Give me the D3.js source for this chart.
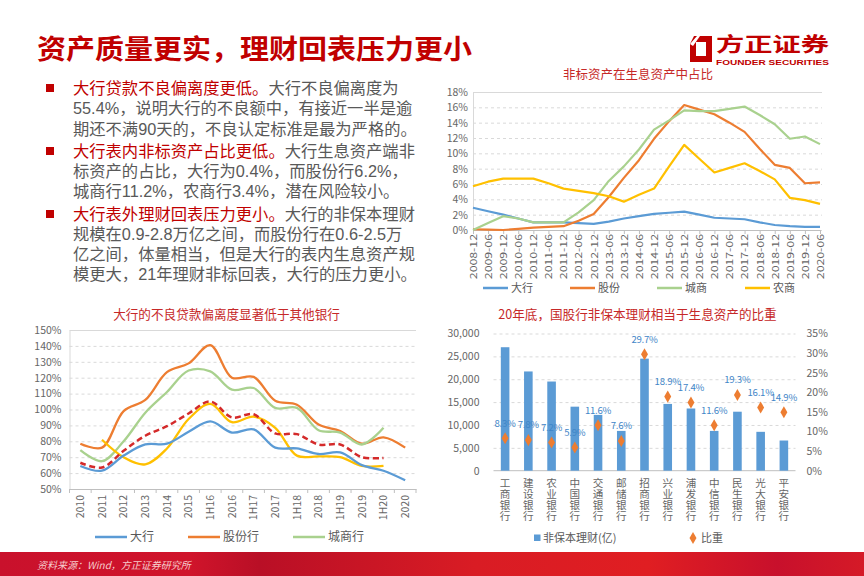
<!DOCTYPE html>
<html><head><meta charset="utf-8">
<script src="https://cdn.jsdelivr.net/npm/d3@7"></script>
<style>
body{margin:0;background:#fff;}
svg{display:block;font-family:"Noto Sans CJK SC","Noto Sans",sans-serif;}
</style></head><body>
<svg id="c" width="864" height="576"></svg>
<script>
// ---------- data ----------
const periods = ["2008-12","2009-06","2009-12","2010-06","2010-12","2011-06","2011-12","2012-06","2012-12","2013-06","2013-12","2014-06","2014-12","2015-06","2015-12","2016-06","2016-12","2017-06","2017-12","2018-06","2018-12","2019-06","2019-12","2020-06"];
const nsBig    = [2.9,2.45,2.0,1.5,1.0,1.0,1.0,0.9,0.8,1.1,1.5,1.8,2.1,2.25,2.4,2.0,1.6,1.5,1.4,1.0,0.65,0.5,0.4,0.4];
const nsJoint  = [0.1,0.05,0.0,0.15,0.3,0.4,0.5,1.2,2.1,4.3,6.8,9.1,11.9,14.2,16.3,15.7,15.1,14.0,12.8,10.6,8.5,8.1,6.1,6.2];
const nsCity   = [0.0,0.9,1.8,1.5,1.0,1.0,1.0,2.3,3.9,6.4,8.3,10.5,13.1,14.3,15.6,15.5,15.5,15.8,16.1,15.0,13.8,11.9,12.2,11.2];
const nsRural  = [5.7,6.3,6.7,6.7,6.7,6.1,5.4,5.1,4.8,4.4,3.7,4.6,5.4,8.3,11.1,9.3,7.5,8.1,8.7,7.7,6.6,4.2,3.9,3.4];
const nsTicks  = [0,2,4,6,8,10,12,14,16,18];
const nsNames  = ["大行","股份","城商","农商"];

const devCats   = ["2010","2011","2012","2013","2014","2015","1H16","2016","1H17","2017","1H18","2018","1H19","2019","1H20","2020"];
const devBig    = [64.5,61.5,71,78,78.5,86,92.5,85.5,87.5,76,75.5,72,73,65,61.5,55.5];
const devJoint  = [78.5,76,99,106,123.5,129,140.5,120,120.5,105.5,103,90.5,86.5,78.5,82.5,76];
const devCity   = [74.5,67.5,80,98,111,124.5,124,112.5,113.5,101,101,87,85.5,78,88.5,null];
const devRural  = [null,81,70,65.5,75.5,94,103.5,92,95.5,88.5,71,70.5,70,64.5,64.5,null];
const devAll    = [66.5,63.5,74,83.5,89.5,97.5,105,95,97,85,84.5,78,78,70,69.5,null];
const devTicks  = [50,60,70,80,90,100,110,120,130,140,150];
const devNames  = ["大行","股份行","城商行"];

const banks    = ["工商银行","建设银行","农业银行","中国银行","交通银行","邮储银行","招商银行","兴业银行","浦发银行","中信银行","民生银行","光大银行","平安银行"];
const wmp      = [27000,21700,19500,14000,12200,8700,24500,14600,13600,8700,12900,8500,6600];
const wmpRatio = [8.3,7.8,7.2,5.9,11.6,7.6,29.7,18.9,17.4,11.6,19.3,16.1,14.9];
const wmpTicks = [0,5000,10000,15000,20000,25000,30000];
const ratioTicks = [0,5,10,15,20,25,30,35];

const bullets = [
  [["大行贷款不良偏离度更低。","r"],["大行不良偏离度为","g"]],
  [["55.4%，说明大行的不良额中，有接近一半是逾","g"]],
  [["期还不满90天的，不良认定标准是最为严格的。","g"]],
  [["大行表内非标资产占比更低。","r"],["大行生息资产端非","g"]],
  [["标资产的占比，大行为0.4%，而股份行6.2%，","g"]],
  [["城商行11.2%，农商行3.4%，潜在风险较小。","g"]],
  [["大行表外理财回表压力更小。","r"],["大行的非保本理财","g"]],
  [["规模在0.9-2.8万亿之间，而股份行在0.6-2.5万","g"]],
  [["亿之间，体量相当，但是大行的表内生息资产规","g"]],
  [["模更大，21年理财非标回表，大行的压力更小。","g"]]
];

// ---------- drawing ----------
const svg = d3.select("#c");
const RED = "#c00000", GRAY = "#595959";
const C = {blue:"#5b9bd5", orange:"#ed7d31", green:"#a9d18e", yellow:"#ffc000", red:"#d42a2a"};

// header
svg.append("text").attr("x",37).attr("y",59).attr("font-size",27).attr("font-weight","bold")
  .attr("fill",RED).attr("textLength",435).attr("lengthAdjust","spacingAndGlyphs")
  .text("资产质量更实，理财回表压力更小");
// logo
svg.append("path").attr("d","M694,36 L712,36 L712,62 L690,62 L690,44 Z M696,42 L706,42 L706,56 L696,56 Z")
  .attr("fill",RED).attr("fill-rule","evenodd");
svg.append("path").attr("d","M690,44 L697,36 L700,36 L693,46 Z").attr("fill","#fff");
svg.append("text").attr("x",716).attr("y",51.5).attr("font-size",20).attr("font-weight","bold").attr("fill",RED)
  .attr("textLength",113).attr("lengthAdjust","spacingAndGlyphs").text("方正证券");
svg.append("text").attr("x",716).attr("y",64.5).attr("font-size",7.5).attr("font-weight","bold").attr("fill",RED)
  .attr("font-family","Liberation Sans, Arial, sans-serif")
  .attr("textLength",113).attr("lengthAdjust","spacingAndGlyphs").text("FOUNDER SECURITIES");

// bullet text
const lineY = [88,108.5,129,151,171,191,214,234,254,274.5];
const bulletLines = [0,3,6];
bullets.forEach((parts,i)=>{
  const t = svg.append("text").attr("x",73).attr("y",lineY[i]).attr("dy","0.36em").attr("font-size",16.3)
    .attr("font-family",'"Liberation Sans","Noto Sans CJK SC",sans-serif');
  parts.forEach(p=>t.append("tspan").attr("fill",p[1]==="r"?RED:GRAY).text(p[0]));
  if (bulletLines.includes(i)) svg.append("rect").attr("x",46).attr("y",lineY[i]-4).attr("width",8).attr("height",8).attr("fill",RED);
});

function styleAxis(g, fs){
  g.selectAll("text").attr("fill","#666").attr("font-size",fs||10.5).attr("font-family",'"Noto Sans CJK SC",sans-serif');
}

// ---- chart 1: 非标资产在生息资产中占比 ----
{
  const x = d3.scalePoint().domain(periods).range([473,820]);
  const y = d3.scaleLinear().domain([0,18]).range([230,92]);
  svg.append("text").attr("x",638).attr("y",75).attr("dy","0.35em").attr("text-anchor","middle")
    .attr("font-size",12.5).attr("fill","#c62828").text("非标资产在生息资产中占比");
  const gy = svg.append("g").attr("transform","translate(473,0)")
    .call(d3.axisLeft(y).tickValues(nsTicks).tickSize(-349).tickPadding(5).tickFormat(d=>d+"%"));
  gy.select(".domain").attr("stroke","#d9d9d9");
  gy.selectAll(".tick line").attr("stroke","#d9d9d9").attr("stroke-dasharray","3,3");
  styleAxis(gy);
  const gx = svg.append("g").attr("transform","translate(0,230)")
    .call(d3.axisBottom(x).tickSize(4).tickSizeOuter(0));
  gx.select(".domain").attr("stroke","#bfbfbf");
  gx.selectAll(".tick line").attr("stroke","#bfbfbf");
  styleAxis(gx, 12.3);
  gx.selectAll("text").attr("transform","rotate(-90) scale(1,0.78)").attr("x",-4).attr("y",0).attr("dy","0.35em").style("text-anchor","end");
  const series = [[nsBig,C.blue],[nsJoint,C.orange],[nsCity,C.green],[nsRural,C.yellow]];
  const line = d3.line().x((d,i)=>x(periods[i])).y(d=>y(d));
  series.forEach(s=>svg.append("path").datum(s[0]).attr("d",line).attr("fill","none")
    .attr("stroke",s[1]).attr("stroke-width",2.2).attr("stroke-linejoin","round"));
  const lx = [483,570,657,745];
  nsNames.forEach((n,i)=>{
    svg.append("line").attr("x1",lx[i]).attr("x2",lx[i]+25).attr("y1",288).attr("y2",288)
      .attr("stroke",series[i][1]).attr("stroke-width",2.5);
    svg.append("text").attr("x",lx[i]+28).attr("y",288).attr("dy","0.35em").attr("font-size",11)
      .attr("fill",GRAY).text(n);
  });
}

// ---- chart 2: 不良贷款偏离度 ----
{
  const x = d3.scaleBand().domain(devCats).range([69.5,416]);
  const y = d3.scaleLinear().domain([50,150]).range([489,330]);
  const cx = c=>x(c)+x.bandwidth()/2;
  svg.append("text").attr("x",226.5).attr("y",315).attr("dy","0.35em").attr("text-anchor","middle")
    .attr("font-size",12.6).attr("fill","#c62828").text("大行的不良贷款偏离度显著低于其他银行");
  const gy = svg.append("g").attr("transform","translate(69.5,0)")
    .call(d3.axisLeft(y).tickValues(devTicks).tickSize(-346.5).tickPadding(8).tickFormat(d=>d+"%"));
  gy.select(".domain").attr("stroke","#d9d9d9");
  gy.selectAll(".tick line").attr("stroke","#d9d9d9").attr("stroke-dasharray","3,3");
  styleAxis(gy);
  const gx = svg.append("g").attr("transform","translate(0,489)")
    .call(d3.axisBottom(x).tickSize(0).tickSizeOuter(0));
  gx.select(".domain").attr("stroke","#bfbfbf");
  styleAxis(gx);
  gx.selectAll("text").attr("transform","rotate(-90)").attr("x",-6).attr("y",0).attr("dy","0.35em").style("text-anchor","end");
  const bounds = devCats.map(c=>x(c)).concat([x.range()[1]]);
  svg.append("g").selectAll("line").data(bounds).join("line")
    .attr("x1",d=>d).attr("x2",d=>d).attr("y1",489).attr("y2",493).attr("stroke","#bfbfbf");
  const line = d3.line().defined(d=>d!=null).x((d,i)=>cx(devCats[i])).y(d=>y(d)).curve(d3.curveCatmullRom.alpha(0.5));
  const series = [[devJoint,C.orange],[devCity,C.green],[devRural,C.yellow],[devBig,C.blue]];
  series.forEach(s=>svg.append("path").datum(s[0]).attr("d",line).attr("fill","none")
    .attr("stroke",s[1]).attr("stroke-width",2.3));
  svg.append("path").datum(devAll).attr("d",line).attr("fill","none").attr("stroke",C.red)
    .attr("stroke-width",2.5).attr("stroke-dasharray","6,3.5");
  const lx = [95,188,293], lc=[C.blue,C.orange,C.green];
  devNames.forEach((n,i)=>{
    svg.append("line").attr("x1",lx[i]).attr("x2",lx[i]+32).attr("y1",537).attr("y2",537)
      .attr("stroke",lc[i]).attr("stroke-width",2.5);
    svg.append("text").attr("x",lx[i]+35).attr("y",537).attr("dy","0.35em").attr("font-size",12)
      .attr("fill",GRAY).text(n);
  });
}

// ---- chart 3: 非保本理财 ----
{
  const x = d3.scaleBand().domain(banks).range([493.5,795.5]).paddingInner(0.63).paddingOuter(0.315);
  const yL = d3.scaleLinear().domain([0,30000]).range([470.7,333.5]);
  const yR = d3.scaleLinear().domain([0,35]).range([470.7,333.5]);
  const cx = b=>x(b)+x.bandwidth()/2;
  svg.append("text").attr("x",637.5).attr("y",315).attr("dy","0.35em").attr("text-anchor","middle")
    .attr("font-size",12.6).attr("fill","#c62828").text("20年底，国股行非保本理财相当于生息资产的比重");
  const gy = svg.append("g").attr("transform","translate(493.5,0)")
    .call(d3.axisLeft(yL).tickValues(wmpTicks).tickSize(-302).tickPadding(14).tickFormat(d3.format(",")));
  gy.select(".domain").remove();
  gy.selectAll(".tick line").attr("stroke","#d9d9d9").attr("stroke-dasharray","3,3");
  gy.selectAll(".tick:first-of-type line").remove();
  styleAxis(gy);
  const gr = svg.append("g").attr("transform","translate(795.5,0)")
    .call(d3.axisRight(yR).tickValues(ratioTicks).tickSize(0).tickPadding(11).tickFormat(d=>d+"%"));
  gr.select(".domain").remove();
  styleAxis(gr);
  svg.append("line").attr("x1",493.5).attr("x2",795.5).attr("y1",470.7).attr("y2",470.7).attr("stroke","#bfbfbf");
  svg.append("g").selectAll("rect").data(banks).join("rect")
    .attr("x",b=>x(b)).attr("width",x.bandwidth())
    .attr("y",(b,i)=>yL(wmp[i])).attr("height",(b,i)=>yL(0)-yL(wmp[i])).attr("fill",C.blue);
  const sym = d3.symbol().type(d3.symbolDiamond).size(42);
  svg.append("g").selectAll("path").data(banks).join("path")
    .attr("d",sym).attr("transform",(b,i)=>`translate(${cx(b)},${yR(wmpRatio[i])})`).attr("fill",C.orange);
  svg.append("g").selectAll("text").data(banks).join("text")
    .attr("x",b=>cx(b)).attr("y",(b,i)=>yR(wmpRatio[i])-15).attr("dy","0.35em").attr("text-anchor","middle")
    .attr("font-size",9.6).attr("letter-spacing",-0.25).attr("fill","#3f86c8").text((b,i)=>wmpRatio[i].toFixed(1)+"%");
  svg.append("g").selectAll("text").data(banks).join("text")
    .attr("x",b=>cx(b)).attr("y",478).attr("font-size",10.6).attr("fill","#666")
    .style("writing-mode","vertical-rl").style("text-orientation","upright")
    .attr("letter-spacing",0.4).text(b=>b);
  svg.append("rect").attr("x",534).attr("y",534.5).attr("width",6.5).attr("height",6.5).attr("fill",C.blue);
  svg.append("text").attr("x",543).attr("y",538).attr("dy","0.35em").attr("font-size",11).attr("fill",GRAY).text("非保本理财(亿)");
  svg.append("path").attr("d",d3.symbol().type(d3.symbolDiamond).size(42)).attr("transform","translate(693,538)").attr("fill",C.orange);
  svg.append("text").attr("x",701).attr("y",538).attr("dy","0.35em").attr("font-size",11).attr("fill",GRAY).text("比重");
}

// footer band
const defs = svg.append("defs");
const grad = defs.append("linearGradient").attr("id","band").attr("x1","0").attr("x2","1");
[[0,"#c9112c"],[0.22,"#d0142b"],[0.3,"#b90f26"],[0.55,"#d91c24"],[0.75,"#e01e22"],[0.9,"#c8102c"],[1,"#d51a27"]]
  .forEach(s=>grad.append("stop").attr("offset",s[0]).attr("stop-color",s[1]));
svg.append("rect").attr("x",0).attr("y",552).attr("width",864).attr("height",24).attr("fill","url(#band)");
svg.append("text").attr("x",37).attr("y",565).attr("dy","0.35em").attr("font-size",10).attr("font-style","italic")
  .attr("fill","#f6cccc").text("资料来源：Wind，方正证券研究所");
</script>
</body></html>
